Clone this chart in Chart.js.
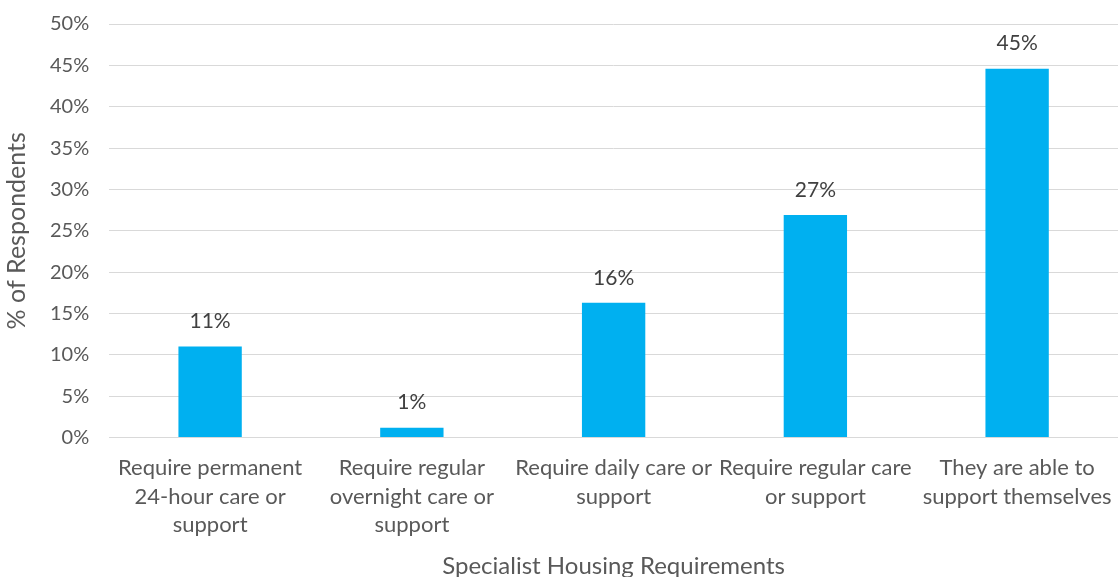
<!DOCTYPE html>
<html>
<head>
<meta charset="utf-8">
<script src="https://cdn.jsdelivr.net/npm/chart.js@4"></script>
<style>
  html, body { margin: 0; padding: 0; background: #ffffff; }
  #wrap { width: 1118px; height: 577px; position: relative; }
</style>
</head>
<body>
<div id="wrap"><canvas id="c"></canvas></div>
<script>
const categories = [
  ["Require permanent", "24-hour care or", "support"],
  ["Require regular", "overnight care or", "support"],
  ["Require daily care or", "support"],
  ["Require regular care", "or support"],
  ["They are able to", "support themselves"]
];
const values = [11.0, 1.2, 16.3, 26.9, 44.6];
const valueLabels = ["11%", "1%", "16%", "27%", "45%"];
const yTicks = [0, 5, 10, 15, 20, 25, 30, 35, 40, 45, 50];

const FONT = "Lato, 'Open Sans', sans-serif";

const dataLabelPlugin = {
  id: 'dataLabels',
  afterDatasetsDraw(chart) {
    const ctx = chart.ctx;
    const meta = chart.getDatasetMeta(0);
    ctx.save();
    ctx.font = "21px " + FONT;
    ctx.fillStyle = "#404040";
    ctx.textAlign = "center";
    ctx.textBaseline = "middle";
    meta.data.forEach((bar, i) => {
      ctx.fillText(valueLabels[i], bar.x, bar.y - 25);
    });
    ctx.restore();
  }
};

new Chart(document.getElementById('c'), {
  type: 'bar',
  data: {
    labels: categories,
    datasets: [{
      data: values,
      backgroundColor: '#00B0F0',
      borderWidth: 0,
      categoryPercentage: 1.0,
      barPercentage: 0.314
    }]
  },
  options: {
    responsive: true,
    maintainAspectRatio: false,
    animation: false,
    layout: { padding: { top: 24, right: -3, left: 4, bottom: 0 } },
    plugins: {
      legend: { display: false },
      tooltip: { enabled: false }
    },
    scales: {
      x: {
        afterFit(scale) { scale.paddingLeft = 0; scale.paddingRight = 0; },
        grid: { display: false, drawTicks: false },
        border: { display: true, color: '#d9d9d9', width: 1 },
        ticks: {
          color: '#595959',
          font: { family: FONT, size: 22, lineHeight: 1.3 },
          padding: 16,
          maxRotation: 0,
          autoSkip: false
        },
        title: {
          display: true,
          text: 'Specialist Housing Requirements',
          color: '#595959',
          font: { family: FONT, size: 24, lineHeight: 0.9 },
          padding: { top: 0, bottom: 0 }
        }
      },
      y: {
        min: 0,
        max: 50,
        afterBuildTicks(axis) { axis.ticks = yTicks.map(v => ({ value: v })); },
        afterFit(scale) { scale.paddingTop = 0; scale.paddingBottom = 0; },
        grid: { color: '#d9d9d9', lineWidth: 1, drawTicks: false },
        border: { display: false },
        ticks: {
          color: '#595959',
          font: { family: FONT, size: 20 },
          padding: 20,
          callback: v => v + '%'
        },
        title: {
          display: true,
          text: '% of Respondents',
          color: '#595959',
          font: { family: FONT, size: 25, lineHeight: 1.0 },
          padding: { top: 0, bottom: 1 }
        }
      }
    }
  },
  plugins: [dataLabelPlugin]
});
</script>
</body>
</html>
